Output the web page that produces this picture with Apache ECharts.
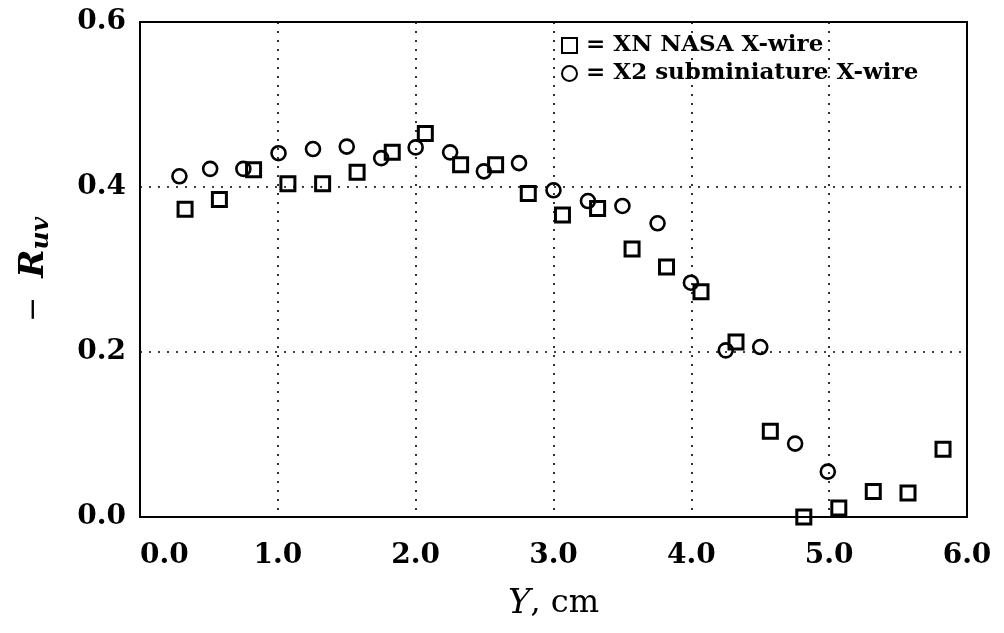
<!DOCTYPE html>
<html>
<head>
<meta charset="utf-8">
<title>-Ruv vs Y</title>
<script src="https://cdn.jsdelivr.net/npm/echarts@6/dist/echarts.min.js"></script>
<style>
	html,body{margin:0;padding:0;background:#fff;}
	#main{width:1004px;height:633px;}
</style>
</head>
<body>
<div id="main"></div>
<script>
	// 数据: XN NASA X-wire (方块)
	var xnY   = [0.327,0.576,0.824,1.073,1.325,1.575,1.83,2.07,2.326,2.58,2.817,3.065,3.32,3.57,3.82,4.07,4.324,4.573,4.816,5.07,5.32,5.572,5.826];
	var xnRuv = [0.373,0.385,0.421,0.404,0.404,0.418,0.442,0.465,0.427,0.427,0.392,0.366,0.374,0.325,0.303,0.273,0.212,0.104,0.0,0.011,0.031,0.029,0.082];

	// 数据: X2 subminiature X-wire (圆)
	var x2Y   = [0.286,0.509,0.75,1.005,1.255,1.50,1.75,2.00,2.25,2.495,2.75,3.0,3.25,3.50,3.755,3.997,4.25,4.50,4.753,4.99];
	var x2Ruv = [0.413,0.422,0.422,0.441,0.446,0.449,0.435,0.448,0.442,0.419,0.429,0.396,0.383,0.377,0.356,0.284,0.202,0.206,0.089,0.055];

	var seriesNames = [' = XN NASA X-wire',' = X2 subminiature X-wire'];
	var xTicks = ['0.0','1.0','2.0','3.0','4.0','5.0','6.0'];
	var yTicks = ['0.0','0.2','0.4','0.6'];

	function toPairs(xs,ys){
		var arr = [];
		for(var i=0;i<xs.length;i++){
			arr.push([xs[i],ys[i]]);
		}
		return arr;
	}

	var serif = 'DejaVu Serif';
	var gridDots = {show:true,lineStyle:{color:'#000',width:1.6,type:[2,7]}};

	var option = {
		backgroundColor:'#fff',
		animation:false,
		grid:{left:140,right:37,top:22,bottom:116,show:true,borderColor:'#000',borderWidth:2},
		legend:{
			orient:'vertical',
			left:556,top:29,
			itemWidth:15,itemHeight:15,itemGap:5,
			textStyle:{fontFamily:serif,fontWeight:'bold',fontSize:23,color:'#000',padding:[0,0,0,-4]},
			data:[{name:seriesNames[0],icon:'rect'},{name:seriesNames[1],icon:'circle'}]
		},
		xAxis:{
			type:'value',min:0,max:6,interval:1,
			axisLine:{show:true,onZero:false,lineStyle:{color:'#000',width:2}},
			axisTick:{show:false},
			splitLine:gridDots,
			axisLabel:{
				fontFamily:serif,fontWeight:'bold',fontSize:28,color:'#000',margin:25,
				alignMinLabel:'left',
				formatter:function(v){ return xTicks[Math.round(v)]; }
			},
			name:'{i|Y}{n|, cm}',
			nameLocation:'middle',nameGap:70,
			nameTextStyle:{
				rich:{
					i:{fontFamily:serif,fontStyle:'italic',fontSize:34,color:'#000'},
					n:{fontFamily:serif,fontSize:32,color:'#000'}
				}
			}
		},
		yAxis:{
			type:'value',min:0,max:0.6,interval:0.2,
			axisLine:{show:true,lineStyle:{color:'#000',width:2}},
			axisTick:{show:false},
			splitLine:gridDots,
			axisLabel:{
				fontFamily:serif,fontWeight:'bold',fontSize:28,color:'#000',margin:14,
				formatter:function(v){ return yTicks[Math.round(v/0.2)]; }
			},
			name:'{m|−  }{r|R}{s|uv}',
			nameLocation:'middle',nameGap:86,
			nameTextStyle:{
				rich:{
					m:{fontFamily:serif,fontSize:30,color:'#000'},
					r:{fontFamily:serif,fontStyle:'italic',fontWeight:'bold',fontSize:34,color:'#000'},
					s:{fontFamily:serif,fontStyle:'italic',fontWeight:'bold',fontSize:25,color:'#000',verticalAlign:'bottom',padding:[14,0,0,0]}
				}
			}
		},
		series:[
			{
				name:seriesNames[0],type:'scatter',symbol:'rect',symbolSize:14,
				itemStyle:{color:'rgba(0,0,0,0)',borderColor:'#000',borderWidth:3,opacity:1},
				data:toPairs(xnY,xnRuv)
			},
			{
				name:seriesNames[1],type:'scatter',symbol:'circle',symbolSize:14,
				itemStyle:{color:'rgba(0,0,0,0)',borderColor:'#000',borderWidth:2.6,opacity:1},
				data:toPairs(x2Y,x2Ruv)
			}
		]
	};

	var myChart = echarts.init(document.getElementById('main'),null,{renderer:'canvas'});
	myChart.setOption(option);
</script>
</body>
</html>
